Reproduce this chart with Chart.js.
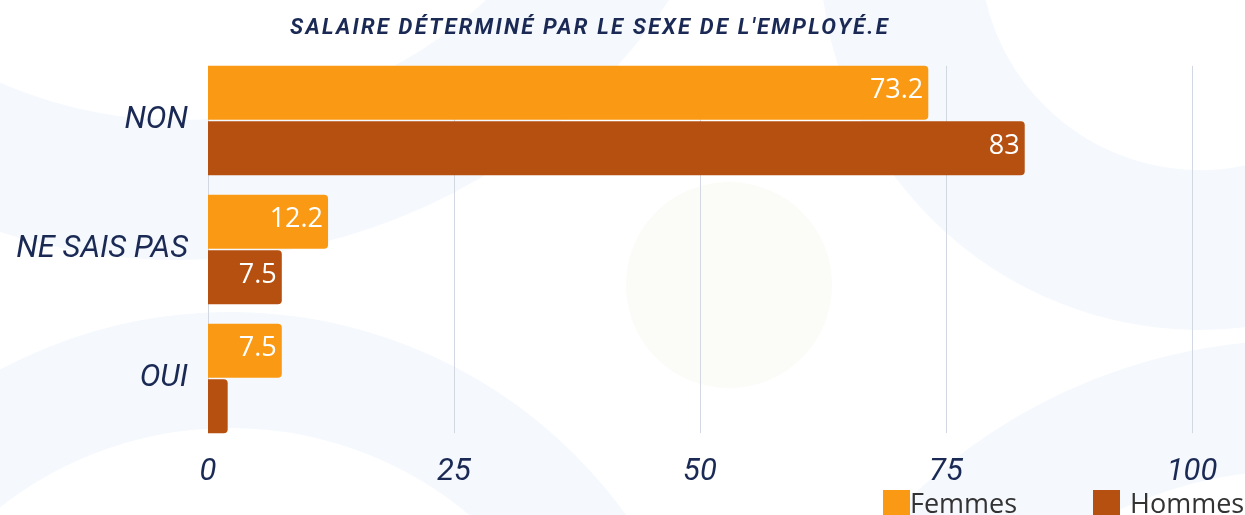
<!DOCTYPE html>
<html>
<head>
<meta charset="utf-8">
<script src="https://cdn.jsdelivr.net/npm/chart.js@4.4.1/dist/chart.umd.min.js"></script>
<style>
  html, body { margin: 0; padding: 0; background: #fff; overflow: hidden; }
  #wrap { position: relative; width: 1245px; height: 515px; }
  #title {
    position: absolute; left: 0; top: 14px; width: 1180px; text-align: center;
    font: italic 700 22px Roboto; letter-spacing: 2.2px; color: #1b2a55;
  }
  .leg { position: absolute; top: 489px; font: 27px "Open Sans"; line-height: 27px; color: #333; white-space: nowrap; }
  .leg i { position: absolute; top: 1px; width: 27px; height: 27px; }
</style>
</head>
<body>
<div id="wrap">
  <canvas id="chart" width="1245" height="515"></canvas>
  <div id="title">SALAIRE DÉTERMINÉ PAR LE SEXE DE L'EMPLOYÉ.E</div>
  <div class="leg" style="left:910px"><i style="left:-27px;background:#fa9a14"></i>Femmes</div>
  <div class="leg" style="left:1130px"><i style="left:-37px;background:#b65010"></i>Hommes</div>
</div>
<script>
// data
const categories = ["NON", "NE SAIS PAS", "OUI"];
const femmes = [73.2, 12.2, 7.5];
const hommes = [83, 7.5, 2];
const xTicks = [0, 25, 50, 75, 100];

const navy = "#1b2a55";

// faint rings in the background
const backdrop = {
  id: "backdrop",
  beforeDraw(chart) {
    const ctx = chart.ctx;
    ctx.save();
    ctx.fillStyle = "#fff";
    ctx.fillRect(0, 0, chart.width, chart.height);
    ctx.strokeStyle = "#f5f9fd";
    [[180, -330, 520, 140], [230, 800, 430, 116], [1200, -50, 300, 160], [1300, 900, 495, 130]].forEach(r => {
      ctx.lineWidth = r[3];
      ctx.beginPath();
      ctx.arc(r[0], r[1], r[2], 0, Math.PI * 2);
      ctx.stroke();
    });
    ctx.fillStyle = "#fbfcf7";
    ctx.beginPath();
    ctx.arc(729, 285, 103, 0, Math.PI * 2);
    ctx.fill();
    ctx.restore();
  }
};

// vertical grid only as tall as the bars
const shortGrid = {
  id: "shortGrid",
  beforeDatasetsDraw(chart) {
    const x = chart.scales.x;
    const first = chart.getDatasetMeta(0).data[0];
    const lastMeta = chart.getDatasetMeta(chart.data.datasets.length - 1);
    const last = lastMeta.data[lastMeta.data.length - 1];
    const top = first.y - first.height / 2;
    const bottom = last.y + last.height / 2;
    const ctx = chart.ctx;
    ctx.save();
    ctx.strokeStyle = "#d2d8e2";
    ctx.lineWidth = 1;
    x.ticks.forEach(t => {
      const px = Math.round(x.getPixelForValue(t.value)) + 0.5;
      ctx.beginPath();
      ctx.moveTo(px, top);
      ctx.lineTo(px, bottom);
      ctx.stroke();
    });
    ctx.restore();
  }
};

// value labels inside the bar ends
const barValues = {
  id: "barValues",
  afterDatasetsDraw(chart) {
    const ctx = chart.ctx;
    ctx.save();
    ctx.font = '27px "Open Sans"';
    ctx.fillStyle = "#fff";
    ctx.textAlign = "right";
    ctx.textBaseline = "middle";
    chart.data.datasets.forEach((ds, i) => {
      chart.getDatasetMeta(i).data.forEach((bar, j) => {
        if (bar.x - bar.base < 40) return;
        ctx.fillText(String(ds.data[j]), bar.x - 5, bar.y - 2);
      });
    });
    ctx.restore();
  }
};

new Chart(document.getElementById("chart"), {
  type: "bar",
  data: {
    labels: categories,
    datasets: [
      { label: "Femmes", data: femmes, backgroundColor: "#fa9a14" },
      { label: "Hommes", data: hommes, backgroundColor: "#b65010" }
    ]
  },
  options: {
    indexAxis: "y",
    responsive: false,
    animation: false,
    categoryPercentage: 0.86,
    barPercentage: 0.97,
    borderRadius: 4,
    borderSkipped: "start",
    layout: { padding: { top: 56, right: 53, bottom: 32, left: 0 } },
    plugins: {
      legend: { display: false },
      title: { display: false },
      tooltip: { enabled: false }
    },
    scales: {
      x: {
        type: "linear",
        min: 0,
        max: 100,
        afterBuildTicks: s => { s.ticks = xTicks.map(v => ({ value: v })); },
        afterFit: s => { s.height = 40; },
        grid: { display: false },
        border: { display: false },
        ticks: { color: navy, padding: 3, font: { family: "Roboto", size: 31, style: "italic" } }
      },
      y: {
        afterFit: s => { s.width = 208; },
        grid: { display: false },
        border: { display: false },
        ticks: { color: navy, padding: 12, font: { family: "Roboto", size: 31, style: "italic" } }
      }
    }
  },
  plugins: [backdrop, shortGrid, barValues]
});
</script>
</body>
</html>
